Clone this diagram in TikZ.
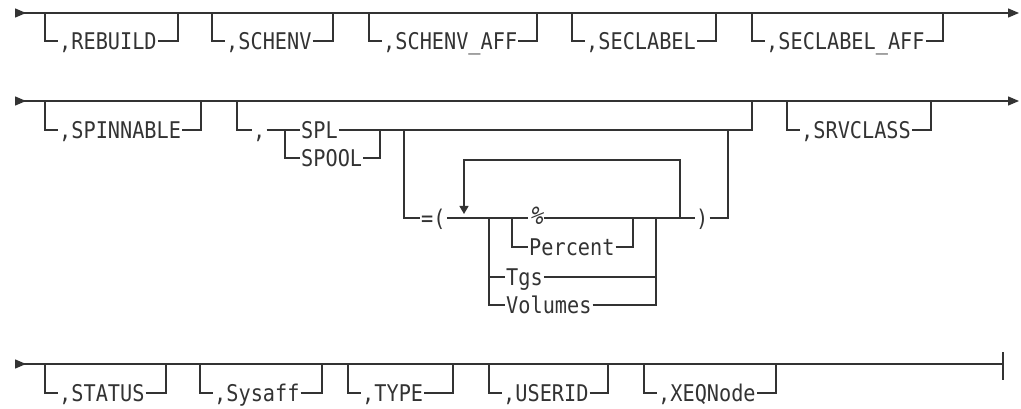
\documentclass[tikz,border=0pt]{standalone}
\usepackage{fontspec}
\usetikzlibrary{arrows.meta}
\newfontfamily\railfont[FakeStretch=0.88]{DejaVu Sans Mono}
\newfontfamily\pctfont[FakeStretch=0.9,FakeSlant=0.2]{DejaVu Sans Mono}
\definecolor{railgray}{HTML}{333333}

\begin{document}
\begin{tikzpicture}[x=1pt,y=-1pt,
  rail/.style={line width=1.3pt,draw=railgray},
  mainline/.style={rail,arrows={Triangle[reversed,length=11pt,width=9pt]-Triangle[length=11pt,width=9pt]}},
  startline/.style={rail,arrows={Triangle[reversed,length=11pt,width=9pt]-}},
  kw/.style={anchor=west,inner sep=1pt,text height=16.5pt,text depth=0pt,
    text=railgray,font=\railfont\fontsize{23}{23}\selectfont}]

\useasboundingbox (0,0) rectangle (1021,409);

% linhas principais
\coordinate (r1a) at (15,13);
\coordinate (r1b) at (1019,13);
\coordinate (r2a) at (15,101);
\coordinate (r2b) at (1019,101);
\coordinate (r3a) at (15,364);
\coordinate (r3b) at (1003,364);
\draw[mainline] (r1a) -- (r1b);
\draw[mainline] (r2a) -- (r2b);
\draw[startline] (r3a) -- (r3b);
\draw[rail] (1003,352) -- (1003,380);

% opcoes simples
\foreach \lx/\rx/\ya/\yb/\lab/\nm in {
  45/178/13/41/REBUILD/rebuild, 212/333/13/41/SCHENV/schenv,
  369/537/13/41/SCHENV\_AFF/schenvaff, 572/716/13/41/SECLABEL/seclabel,
  752/943/13/41/SECLABEL\_AFF/seclabelaff,
  45/201/101/130/SPINNABLE/spinnable, 787/931/101/130/SRVCLASS/srvclass,
  45/166/364/393/STATUS/status, 200/322/364/393/Sysaff/sysaff,
  348/453/364/393/TYPE/type, 489/608/364/393/USERID/userid,
  644/776/364/393/XEQNode/xeqnode}
{
  \node[kw] (\nm) at (\lx+13,\yb) {,\lab};
  \draw[rail] (\lx,\ya) |- (\nm.west);
  \draw[rail] (\nm.east) -| (\rx,\ya);
}

% SPL / SPOOL
\node[kw] (comma) at (252,130) {,};
\node[kw] (spl) at (300,130) {SPL};
\node[kw] (spool) at (300,158) {SPOOL};
\draw[rail] (237,101) |- (comma.west);
\draw[rail] (comma.east) -- (spl.west);
\draw[rail] (285,130) |- (spool.west);
\draw[rail] (spool.east) -| (380,130);
\draw[rail] (spl.east) -| (752,101);

% =( ... )
\node[kw] (eqparen) at (420,218) {=(};
\node[kw,text height=14pt,font=\pctfont\fontsize{25}{25}\selectfont] (pct) at (528,218) {\%};
\node[kw] (percent) at (528,247) {Percent};
\node[kw] (tgs) at (505,277) {Tgs};
\node[kw] (volumes) at (505,305) {Volumes};
\node[kw] (rparen) at (695,218) {)};
\draw[rail] (404,130) |- (eqparen.west);
\draw[rail] (eqparen.east) -- (pct.west);
\draw[rail] (pct.east) -- (rparen.west);
\draw[rail] (rparen.east) -| (728,130);
\draw[rail] (512,218) |- (percent.west);
\draw[rail] (percent.east) -| (633,218);
\draw[rail] (489,218) |- (volumes.west);
\draw[rail] (489,277) -- (tgs.west);
\draw[rail] (tgs.east) -| (656,218);
\draw[rail] (volumes.east) -| (656,218);

% repeticao
\draw[rail,-{Triangle[length=8pt,width=9pt]}] (680,218) |- (464,160) -- (464,214);

\end{tikzpicture}
\end{document}
